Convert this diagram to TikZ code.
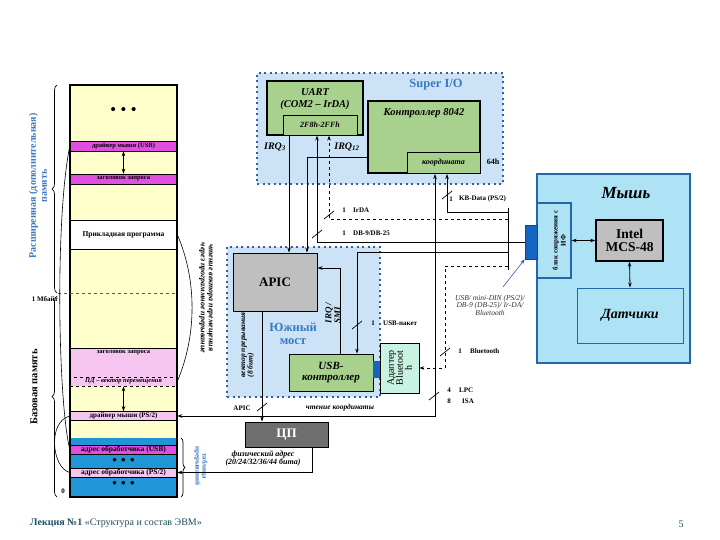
\documentclass[tikz,border=0pt]{standalone}
\usepackage{fontspec}
\setmainfont{Liberation Serif}
\usetikzlibrary{arrows.meta,decorations.pathreplacing}
\definecolor{memyel}{HTML}{FFFFCC}
\definecolor{mag}{HTML}{E04FE0}
\definecolor{lpink}{HTML}{F6C6F0}
\definecolor{tblue}{HTML}{2196D6}
\definecolor{sioblue}{HTML}{CCE3F7}
\definecolor{dotblue}{HTML}{2F5FA8}
\definecolor{grn}{HTML}{A9D18E}
\definecolor{apicgray}{HTML}{BFBFBF}
\definecolor{cpugray}{HTML}{6E6E6E}
\definecolor{mouseblue}{HTML}{ADE3F4}
\definecolor{mouseedge}{HTML}{2466A8}
\definecolor{connblue}{HTML}{1565C0}
\definecolor{btfill}{HTML}{C8F2E2}
\definecolor{labblue}{HTML}{3B78C4}
\definecolor{foot}{HTML}{1F4E5F}
\newcommand{\fs}[1]{\fontsize{#1}{#1}\selectfont}
\begin{document}
\begin{tikzpicture}[x=1pt,y=-1pt,
 box/.style={draw, inner sep=0pt, align=center, anchor=center},
 band/.style={box, minimum width=107pt, line width=0.5pt},
 arr/.style={-{Stealth[length=5pt,width=3.5pt]}, line width=0.8pt},
 arrb/.style={{Stealth[length=5pt,width=3.5pt]}-{Stealth[length=5pt,width=3.5pt]}, line width=0.8pt},
 wire/.style={line width=0.8pt},
 lbl/.style={font=\fs{7}\bfseries, inner sep=0pt},
 ilbl/.style={font=\fs{7.5}\bfseries\itshape, inner sep=0pt, align=center},
 dotfr/.style={box, fill=sioblue, draw=dotblue, line width=2pt, dash pattern=on 2pt off 3.5pt},
 slsh/.pic={\draw[line width=0.7pt] (-5,4) -- (5,-4);},
 dotsn/.style={inner sep=0pt, font=\fs{13}\bfseries}
]
\useasboundingbox (0,0) rectangle (720,540);
\fill[white] (0,0) rectangle (720,540);

% ---------------- memory column
\node[box, fill=memyel, draw=none, minimum width=107pt, minimum height=412pt] (mem) at (123.5,291) {};
\node[dotsn, font=\fs{15}\bfseries] (dtop) at (123.5,111) {•\,\,•\,\,•};
\node[band, fill=mag, minimum height=10pt, font=\fs{6.5}\bfseries] (usbdrv) at (123.5,146) {драйвер мыши (USB)};
\node[band, fill=mag, minimum height=10pt, font=\fs{6.5}\bfseries] (hdr1) at (123.5,179) {заголовок запроса};
\node[band, fill=white, minimum height=29pt, font=\fs{7.5}\bfseries] (prog) at (123.5,234.5) {Прикладная программа};
\node[band, fill=lpink, minimum height=29pt] (hdr2) at (123.5,362.5) {};
\node[inner sep=0pt, font=\fs{6.5}\bfseries] (hdr2t) at (123.5,353) {заголовок запроса};
\node[band, fill=lpink, dashed, minimum height=9pt, font=\fs{6.5}\bfseries\itshape] (pd) at (123.5,381.5) {ПД – вектор перемещения};
\node[band, fill=lpink, minimum height=9pt, font=\fs{7}\bfseries] (ps2drv) at (123.5,416) {драйвер мыши (PS/2)};
\node[band, fill=tblue, draw=none, minimum height=59pt] (tbl) at (123.5,467.5) {};
\node[band, fill=mag, minimum height=9pt, font=\fs{7.5}\bfseries] (addrusb) at (123.5,449.5) {адрес обработчика (USB)};
\node[dotsn] (d1) at (123.5,461.5) {•\,\,•\,\,•};
\node[band, fill=lpink, minimum height=9pt, font=\fs{7.5}\bfseries] (addrps2) at (123.5,472.5) {адрес обработчика (PS/2)};
\node[dotsn] (d2) at (123.5,484.5) {•\,\,•\,\,•};
\draw[line width=1.6pt] (mem.north west) rectangle (mem.south east);
\draw[arrb, line width=0.6pt] (usbdrv.south) -- (hdr1.north);
\draw[arrb, line width=0.6pt] (pd.south) -- (ps2drv.north);

\coordinate (mb) at (58,293);
\draw[dashed, dotblue, line width=0.5pt] (mb) -- (mem.east |- mb);
\node[lbl] (mbl) at (45,299) {1 Мбайт};
\node[lbl] (zero) at (63,491) {0};

\draw[line width=0.7pt, decorate, decoration={brace, amplitude=5pt}] (57,293) -- (57,85);
\draw[line width=0.7pt, decorate, decoration={brace, amplitude=5pt}] (57,497) -- (57,296);
\draw[line width=0.7pt, decorate, decoration={brace, amplitude=4pt}] (181,438) -- (181,497);

\node[rotate=90, font=\fs{10}\bfseries, text=labblue, align=center, inner sep=0pt] (extl) at (38,186) {Расширенная (дополнительная)\\[1pt]память};
\node[rotate=90, font=\fs{10.5}\bfseries, inner sep=0pt] (basel) at (34,387) {Базовая память};
\node[rotate=-90, font=\fs{7}\bfseries, text=labblue, align=center, inner sep=0pt] (tbll) at (201,466) {таблица\\прерываний};

\draw[line width=0.6pt] (usbdrv.west) .. controls (55,220) and (58,400) .. (addrusb.west);
\draw[line width=0.6pt] (ps2drv.west) .. controls (47,422) and (52,468) .. (addrps2.west);
\draw[line width=0.6pt] (prog.east) .. controls (197,280) and (197,335) .. (pd.east);
\node[rotate=-90, ilbl, font=\fs{8}\bfseries\itshape] (readv) at (206,298) {чтение вектора перемещения\\через программное прерывание};

% ---------------- Super I/O
\node[dotfr, minimum width=246pt, minimum height=111pt] (sio) at (380,128.5) {};
\node[font=\fs{12.5}\bfseries, text=labblue, inner sep=0pt] (siol) at (436,85) {Super I/O};
\node[box, fill=grn, line width=1.2pt, minimum width=96pt, minimum height=54pt] (uart) at (315,108) {};
\node[font=\fs{10.5}\bfseries\itshape, align=center, inner sep=0pt] (uartl) at (315,99) {UART\\[1pt](COM2 – IrDA)};
\node[box, fill=grn, line width=0.8pt, minimum width=74pt, minimum height=20pt, font=\fs{8}\bfseries\itshape] (uartaddr) at (320,125) {2F8h-2FFh};
\node[box, fill=grn, line width=2pt, minimum width=112pt, minimum height=72pt] (kbc) at (424,137) {};
\node[font=\fs{10.5}\bfseries\itshape, inner sep=0pt] (kbcl) at (424,113) {Контроллер 8042};
\node[box, fill=grn, line width=0.8pt, minimum width=73pt, minimum height=21pt, font=\fs{8}\bfseries\itshape] (coord) at (443.5,162.5) {координата};
\node[lbl, font=\fs{8}\bfseries] (h64) at (493,162) {64h};
\node[font=\fs{10}\bfseries\itshape, inner sep=0pt] (irq3) at (275,147) {IRQ\textsubscript{3}};
\node[font=\fs{10}\bfseries\itshape, inner sep=0pt] (irq12) at (347,147) {IRQ\textsubscript{12}};

% ---------------- Mouse
\node[box, fill=mouseblue, draw=mouseedge, line width=2pt, minimum width=153pt, minimum height=189pt] (mouse) at (613.5,268.5) {};
\node[font=\fs{17}\bfseries\itshape, inner sep=0pt] (mousel) at (626,193) {Мышь};
\node[box, fill=mouseblue, draw=mouseedge, line width=1.2pt, minimum width=34pt, minimum height=75pt] (iface) at (554,240.5) {};
\node[rotate=90, font=\fs{7}\bfseries, align=center, inner sep=0pt] (ifacel) at (559,240.5) {блок сопряжения с\\[1pt]ИФ};
\node[box, fill=apicgray, line width=1.5pt, minimum width=67pt, minimum height=41pt, font=\fs{13.5}\bfseries] (intel) at (629.5,240.5) {Intel\\MCS-48};
\node[box, fill=mouseblue, draw=mouseedge, line width=1pt, minimum width=106pt, minimum height=55pt, font=\fs{14}\bfseries\itshape] (sensors) at (630,315.5) {Датчики};
\node[box, fill=connblue, draw=connblue!70!black, line width=0.6pt, minimum width=12pt, minimum height=34pt] (conn) at (531,242) {};
\draw[arrb] (iface.east) -- (intel.west);
\draw[arrb] (intel.south) -- (sensors.north);

% ---------------- South bridge
\node[dotfr, minimum width=153pt, minimum height=150pt] (sb) at (303.5,322) {};
\node[box, fill=apicgray, line width=1pt, minimum width=84pt, minimum height=58pt, font=\fs{13}\bfseries] (apic) at (275,282) {APIC};
\node[font=\fs{12.5}\bfseries, text=labblue, align=center, inner sep=0pt] (sbl) at (293,334) {Южный\\[1pt]мост};
\node[box, fill=grn, line width=0.8pt, minimum width=84pt, minimum height=37pt, font=\fs{11}\bfseries\itshape] (usbc) at (331,372.5) {USB-\\контроллер};
\node[box, fill=connblue, draw=connblue, minimum width=6pt, minimum height=16pt] (usbconn) at (376,369) {};
\node[box, fill=btfill, line width=0.7pt, minimum width=39pt, minimum height=50pt] (bt) at (399.5,368) {};
\node[rotate=90, font=\fs{10}, align=center, inner sep=0pt] (btl) at (399.5,368) {Адаптер\\[-1pt]Bluetoot\\[-1pt]h};
\node[rotate=90, font=\fs{9}\bfseries\itshape, align=left, inner sep=0pt] (irqsmi) at (333,313) {IRQ /\\SMI};
\node[rotate=90, ilbl, align=left] (vecl) at (248,345) {вектор прерывания\\(8 бит)};

% ---------------- CPU
\node[box, fill=cpugray, line width=1pt, minimum width=83pt, minimum height=25pt, font=\fs{13}\bfseries, text=white] (cpu) at (286.5,434.5) {ЦП};

% ---------------- coordinates for wires
\coordinate (c262) at (262,0);
\coordinate (c289) at (289,0);
\coordinate (c307) at (307,0);
\coordinate (c312) at (312,0);
\coordinate (c317) at (317,0);
\coordinate (c329) at (329,0);
\coordinate (c340) at (340,0);
\coordinate (c357) at (357,0);
\coordinate (c435) at (435,0);
\coordinate (c445) at (445,0);
\coordinate (c447) at (447,0);
\coordinate (r157) at (0,157);
\coordinate (r242) at (0,242);
\coordinate (r268) at (0,268);
\coordinate (b208) at (508,208);
\coordinate (b212) at (508,212);
\coordinate (b219) at (508,219);
\coordinate (b252) at (508,252);
\coordinate (b266) at (508,266);
\coordinate (b270) at (508,270);

% ---------------- wires
\draw[arr] (uart.south -| c289) -- (apic.north -| c289);
\draw[arr] (kbc.west |- r157) -| (apic.north -| c307);
\draw[arr] (conn.west |- r242) -| (uart.south -| c317);
\draw[arr, dashed] (b219) -| (uart.south -| c329);
\draw[arr] (b212) -| (kbc.south -| c447);
\draw[wire] (b208) -- (b270);
\draw[arr] (b252) -| (usbc.north -| c357);
\draw[arr, dashed] (b266) -| (c445 |- bt.east) -- (bt.east);
\draw[arrb] (kbc.south -| c435) |- (ps2drv.east);
\draw[arr] (usbc.north -| c340) |- (apic.east |- r268);
\draw[arr] (apic.south -| c262) -- (cpu.north -| c262);
\draw[arr] (cpu.south -| c312) |- (addrps2.east);

% slash marks
\pic at (447,195) {slsh};
\pic at (329,215) {slsh};
\pic at (317,234) {slsh};
\pic at (357,325) {slsh};
\pic at (445,352) {slsh};
\pic at (434,396) {slsh};
\pic at (262,407) {slsh};

% wire labels
\node[lbl] (n1a) at (451,199) {1};
\node[lbl, anchor=west] (kbd) at (459,199) {KB-Data (PS/2)};
\node[lbl] (n1b) at (344,210) {1};
\node[lbl, anchor=west] (irda) at (353,210) {IrDA};
\node[lbl] (n1c) at (344,233) {1};
\node[lbl, anchor=west] (db9) at (353,233) {DB-9/DB-25};
\node[lbl] (n1d) at (373,323) {1};
\node[lbl, anchor=west] (usbp) at (383,323) {USB-пакет};
\node[lbl] (n1e) at (460,351) {1};
\node[lbl, anchor=west] (btw) at (470,351) {Bluetooth};
\node[lbl] (n4) at (449,390) {4};
\node[lbl, anchor=west] (lpc) at (459,390) {LPC};
\node[lbl] (n8) at (449,401) {8};
\node[lbl, anchor=west] (isa) at (462,401) {ISA};
\node[lbl] (apicw) at (242,408) {APIC};
\node[ilbl] (readc) at (340,408) {чтение координаты};
\node[ilbl, font=\fs{8}\bfseries\itshape] (phys) at (263,458.5) {физический адрес\\(20/24/32/36/44 бита)};

\node[font=\fs{7.5}\itshape, align=center, inner sep=0pt, text=black!80] (conl) at (490,305) {USB/ mini-DIN (PS/2)/\\DB-9 (DB-25)/ Ir-DA/\\Bluetooth};
\coordinate (conla) at (503,287);
\draw[arr, line width=0.6pt, draw=dotblue] (conla) -- (conn.south west);

% footer
\node[anchor=west, font=\fs{10}, text=foot, inner sep=0pt] (footer) at (30,523) {\textbf{Лекция №1} «Структура и состав ЭВМ»};
\node[font=\fs{10}, text=foot, inner sep=0pt] (pg) at (681,524) {5};
\end{tikzpicture}
\end{document}
